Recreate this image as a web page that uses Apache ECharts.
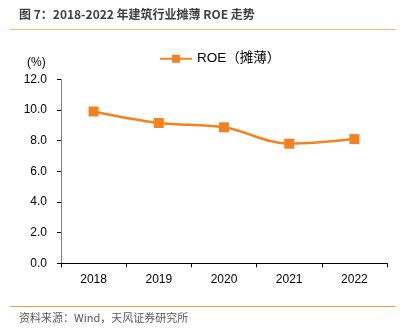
<!DOCTYPE html>
<html><head><meta charset="utf-8">
<script src="https://cdn.jsdelivr.net/npm/echarts@6/dist/echarts.min.js"></script>
<style>html,body{margin:0;padding:0;background:#fff}#c{width:400px;height:336px}</style>
</head><body><div id="c"></div>
<script>
const categories = ['2018','2019','2020','2021','2022'];
const roeValues = [9.9, 9.15, 8.87, 7.8, 8.1];
const seriesName = 'ROE（摊薄）';
const titleText = '图 7：2018-2022 年建筑行业摊薄 ROE 走势';
const sourceText = '资料来源：Wind，天风证券研究所';
const unitText = '(%)';

const chart = echarts.init(document.getElementById('c'), null, {renderer:'canvas'});
const orange = '#F58220';
chart.setOption({
  animation:false,
  textStyle:{fontFamily:'Liberation Sans, Arial, Noto Sans CJK SC'},
  graphic:[
    {type:'text', left:19, top:8, style:{text:titleText, font:'bold 12px "Noto Sans CJK SC", sans-serif', fill:'#404040'}},
    {type:'line', shape:{x1:10,y1:29.5,x2:396,y2:29.5}, style:{stroke:'#F9B878', lineWidth:1}},
    {type:'line', shape:{x1:10,y1:306.5,x2:396,y2:306.5}, style:{stroke:'#F59A4A', lineWidth:1}},
    {type:'text', left:19, top:312, style:{text:sourceText, font:'11px "Noto Sans CJK SC", sans-serif', fill:'#595959'}},
    {type:'text', left:27, top:57, style:{text:unitText, font:'12px "Liberation Sans", Arial', fill:'#000'}}
  ],
  legend:{
    data:[seriesName],
    top:47, left:154, itemWidth:32, itemHeight:10, itemGap:5,
    textStyle:{fontSize:13.5, color:'#000', fontFamily:'Liberation Sans, Noto Sans CJK SC'}
  },
  grid:{left:61, right:13, top:79.3, bottom:72.7, containLabel:false},
  xAxis:{
    type:'category', data:categories, boundaryGap:true,
    axisLine:{lineStyle:{color:'#000', width:1}},
    axisTick:{show:true, length:4, lineStyle:{color:'#000'}},
    axisLabel:{fontSize:12, color:'#000', margin:10, fontFamily:'Liberation Sans, Arial'}
  },
  yAxis:{
    type:'value', min:0, max:12, interval:2,
    axisLine:{show:true, lineStyle:{color:'#808080', width:1}},
    axisTick:{show:true, length:4, lineStyle:{color:'#000'}},
    splitLine:{show:false},
    axisLabel:{fontSize:12, color:'#000', margin:14, fontFamily:'Liberation Sans, Arial', formatter:v=>v.toFixed(1)}
  },
  series:[{
    name:seriesName, type:'line', data:roeValues, smooth:0.35,
    symbol:'rect', symbolSize:10,
    lineStyle:{color:orange, width:2.5},
    itemStyle:{color:orange}
  }]
});
</script></body></html>
